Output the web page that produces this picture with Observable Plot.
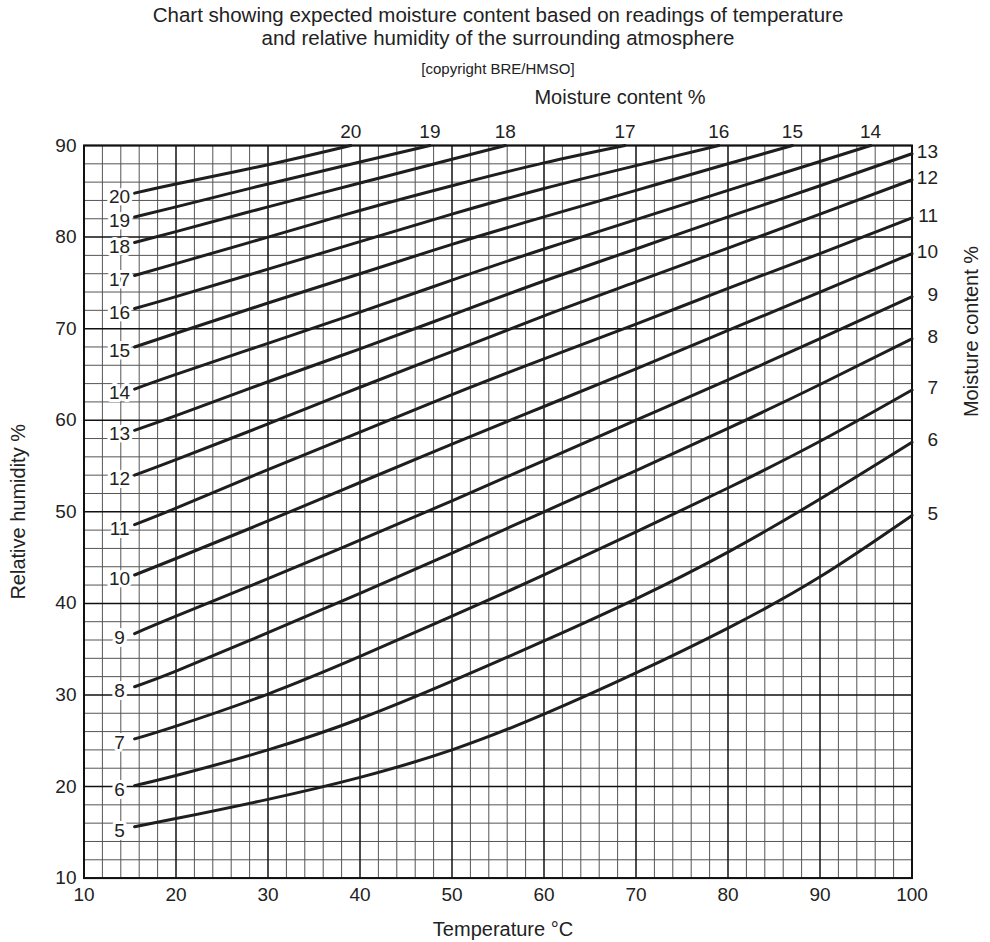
<!DOCTYPE html>
<html>
<head>
<meta charset="utf-8">
<script src="https://cdn.jsdelivr.net/npm/d3@7"></script>
<script src="https://cdn.jsdelivr.net/npm/@observablehq/plot@0.6"></script>
<style>
  body { margin: 0; background: #fff; font-family: "Liberation Sans", Arial, sans-serif; color: #222; }
  #head { position: relative; width: 990px; height: 80px; }
  #head div { position: absolute; left: 0; width: 996px; text-align: center; line-height: 1; white-space: nowrap; }
</style>
</head>
<body>
<div id="head">
  <div style="top:4.8px;font-size:20.5px">Chart showing expected moisture content based on readings of temperature</div>
  <div style="top:27.8px;font-size:20.5px">and relative humidity of the surrounding atmosphere</div>
  <div style="top:60.6px;font-size:15px">[copyright BRE/HMSO]</div>
</div>
<div id="chart"></div>
<script>
// Axis tick labels
const xTicks = [10, 20, 30, 40, 50, 60, 70, 80, 90, 100];
const yTicks = [10, 20, 30, 40, 50, 60, 70, 80, 90];

// Temperature (°C) sample points shared by curves 5–13
const temps = [15.5, 20, 30, 40, 50, 60, 70, 80, 90, 100];

// Relative humidity (%) for each moisture-content curve
const mc5  = [15.6, 16.5, 18.6, 21.0, 24.0, 27.9, 32.4, 37.3, 42.9, 49.6];
const mc6  = [20.1, 21.2, 24.0, 27.4, 31.5, 35.9, 40.5, 45.6, 51.4, 57.6];
const mc7  = [25.2, 26.6, 30.1, 34.2, 38.6, 43.1, 47.8, 52.6, 57.7, 63.3];
const mc8  = [30.9, 32.6, 36.8, 41.1, 45.5, 50.0, 54.5, 59.1, 63.9, 68.9];
const mc9  = [36.7, 38.6, 42.7, 46.9, 51.2, 55.6, 60.0, 64.4, 68.9, 73.5];
const mc10 = [43.1, 44.9, 49.0, 53.2, 57.4, 61.5, 65.6, 69.8, 74.0, 78.2];
const mc11 = [48.6, 50.4, 54.6, 58.7, 62.8, 66.7, 70.5, 74.4, 78.2, 82.1];
const mc12 = [54.0, 55.7, 59.6, 63.6, 67.5, 71.4, 75.1, 78.8, 82.5, 86.25];
const mc13 = [58.9, 60.5, 64.2, 67.8, 71.5, 75.2, 78.7, 82.2, 85.6, 89.1];

// Upper curves leave the chart through the 90 % line
const mc14T = [15.5, 20, 30, 40, 50, 60, 70, 80, 90, 95.5];
const mc14  = [63.4, 65.0, 68.4, 71.8, 75.3, 78.7, 81.9, 85.1, 88.25, 90];
const mc15T = [15.5, 20, 30, 40, 50, 60, 70, 80, 87];
const mc15  = [68.0, 69.5, 72.8, 76.0, 79.2, 82.2, 85.1, 88.0, 90];
const mc16T = [15.5, 20, 30, 40, 50, 60, 70, 79];
const mc16  = [72.2, 73.5, 76.5, 79.5, 82.5, 85.3, 87.8, 90];
const mc17T = [15.5, 20, 30, 40, 50, 60, 68.8];
const mc17  = [75.8, 77.1, 80.0, 82.9, 85.6, 88.1, 90];
const mc18T = [15.5, 20, 30, 40, 50, 55.8];
const mc18  = [79.4, 80.6, 83.3, 85.9, 88.5, 90];
const mc19T = [15.5, 20, 30, 40, 47.6];
const mc19  = [82.2, 83.3, 85.8, 88.2, 90];
const mc20T = [15.5, 20, 30, 39];
const mc20  = [84.8, 85.8, 87.9, 90];

const curveDefs = [
  [5, temps, mc5], [6, temps, mc6], [7, temps, mc7], [8, temps, mc8],
  [9, temps, mc9], [10, temps, mc10], [11, temps, mc11], [12, temps, mc12],
  [13, temps, mc13], [14, mc14T, mc14], [15, mc15T, mc15], [16, mc16T, mc16],
  [17, mc17T, mc17], [18, mc18T, mc18], [19, mc19T, mc19], [20, mc20T, mc20]
];

const rows = curveDefs.flatMap(([mc, t, rh]) => t.map((tv, i) => ({mc, t: tv, rh: rh[i]})));
const starts = curveDefs.map(([mc, t, rh]) => ({mc, t: t[0], rh: rh[0]}));
const ends = curveDefs.map(([mc, t, rh]) => ({mc, t: t[t.length - 1], rh: rh[rh.length - 1]}));
const rightEnds = ends.filter(d => d.mc <= 13);
const topEnds = ends.filter(d => d.mc >= 14);

const minorX = d3.range(10, 100.01, 2).filter(v => v % 10 !== 0);
const minorY = d3.range(10, 90.01, 2).filter(v => v % 10 !== 0);

const ink = "#1e1e1e";
const font = "'Liberation Sans', Arial, Helvetica, sans-serif";

const chart = Plot.plot({
  width: 990,
  height: 862,
  marginTop: 65,
  marginLeft: 83.5,
  marginRight: 78.5,
  marginBottom: 64.4,
  style: {fontFamily: font, fontSize: "19px", color: "#222", background: "white"},
  x: {domain: [10, 100]},
  y: {domain: [10, 90]},
  marks: [
    Plot.ruleX(minorX, {stroke: "#555", strokeWidth: 1}),
    Plot.ruleY(minorY, {stroke: "#555", strokeWidth: 1}),
    Plot.ruleX(xTicks, {stroke: "#111", strokeWidth: 1.5}),
    Plot.ruleY(yTicks, {stroke: "#111", strokeWidth: 1.5}),
    Plot.frame({stroke: "#111", strokeWidth: 2}),
    Plot.line(rows, {x: "t", y: "rh", z: "mc", stroke: ink, strokeWidth: 3, curve: "natural"}),
    Plot.text(starts, {x: "t", y: "rh", text: d => String(d.mc), dx: -15, dy: 4, fontSize: 19,
      fill: "#222", stroke: "white", strokeWidth: 6, paintOrder: "stroke", textAnchor: "middle"}),
    Plot.text(rightEnds, {x: "t", y: "rh", text: d => String(d.mc), dx: 26, dy: -2, fontSize: 19,
      fill: "#222", textAnchor: "end"}),
    Plot.text(topEnds, {x: "t", y: "rh", text: d => String(d.mc), dy: -13.5, fontSize: 19,
      fill: "#222", textAnchor: "middle"}),
    Plot.axisX({ticks: xTicks, tickSize: 0, tickPadding: 9, fontSize: 19, label: null, tickFormat: d => String(d)}),
    Plot.axisY({ticks: yTicks, tickSize: 0, tickPadding: 7.5, fontSize: 19, label: null, tickFormat: d => String(d)}),
    Plot.text(["Temperature °C"], {text: d => d, frameAnchor: "bottom", dx: 5, dy: 51,
      fontSize: 20, textAnchor: "middle", lineAnchor: "middle", fill: "#222"}),
    Plot.text(["Relative humidity %"], {text: d => d, frameAnchor: "left", dx: -65.5, rotate: -90,
      fontSize: 20, textAnchor: "middle", lineAnchor: "middle", fill: "#222"}),
    Plot.text(["Moisture content %"], {text: d => d, frameAnchor: "top-right", dx: 60, dy: 186, rotate: -90,
      fontSize: 20, textAnchor: "middle", lineAnchor: "middle", fill: "#222"}),
    Plot.text(["Moisture content %"], {text: d => d, frameAnchor: "top", dx: 122, dy: -48,
      fontSize: 20, textAnchor: "middle", lineAnchor: "middle", fill: "#222"})
  ]
});
document.getElementById("chart").appendChild(chart);
</script>
</body>
</html>
